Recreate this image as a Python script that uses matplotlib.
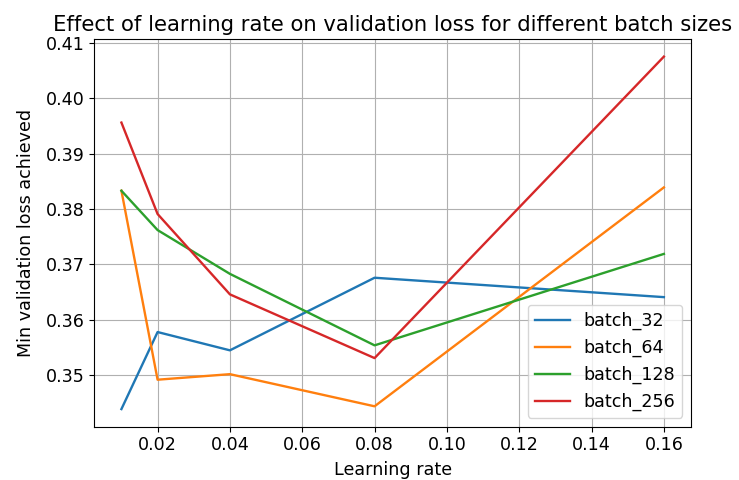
import matplotlib
matplotlib.use("Agg")
import matplotlib.pyplot as plt

learning_rates = [0.01, 0.02, 0.04, 0.08, 0.16]
batch_32 = [0.3439, 0.3578, 0.3545, 0.3676, 0.3641]
batch_64 = [0.3833, 0.3492, 0.3502, 0.3444, 0.3839]
batch_128 = [0.3833, 0.3762, 0.3683, 0.3554, 0.3719]
batch_256 = [0.3956, 0.3791, 0.3646, 0.3531, 0.4075]
series_names = ["batch_32", "batch_64", "batch_128", "batch_256"]

plt.rcParams['font.size'] = 12.6
fig = plt.figure(figsize=(7.39, 4.8), dpi=100)
ax = fig.add_axes([94.3/739, 1-426.7/480, (691-94.3)/739, (426.7-39)/480])
for name, vals in zip(series_names, [batch_32, batch_64, batch_128, batch_256]):
    ax.plot(learning_rates, vals, label=name, linewidth=1.7)
ax.grid(True)
ax.set_title("Effect of learning rate on validation loss for different batch sizes", fontsize=15.2)
ax.set_xlabel("Learning rate", labelpad=5)
ax.set_ylabel("Min validation loss achieved", labelpad=8)
ax.legend(loc="lower right")
fig.savefig("out.png", dpi=100)
